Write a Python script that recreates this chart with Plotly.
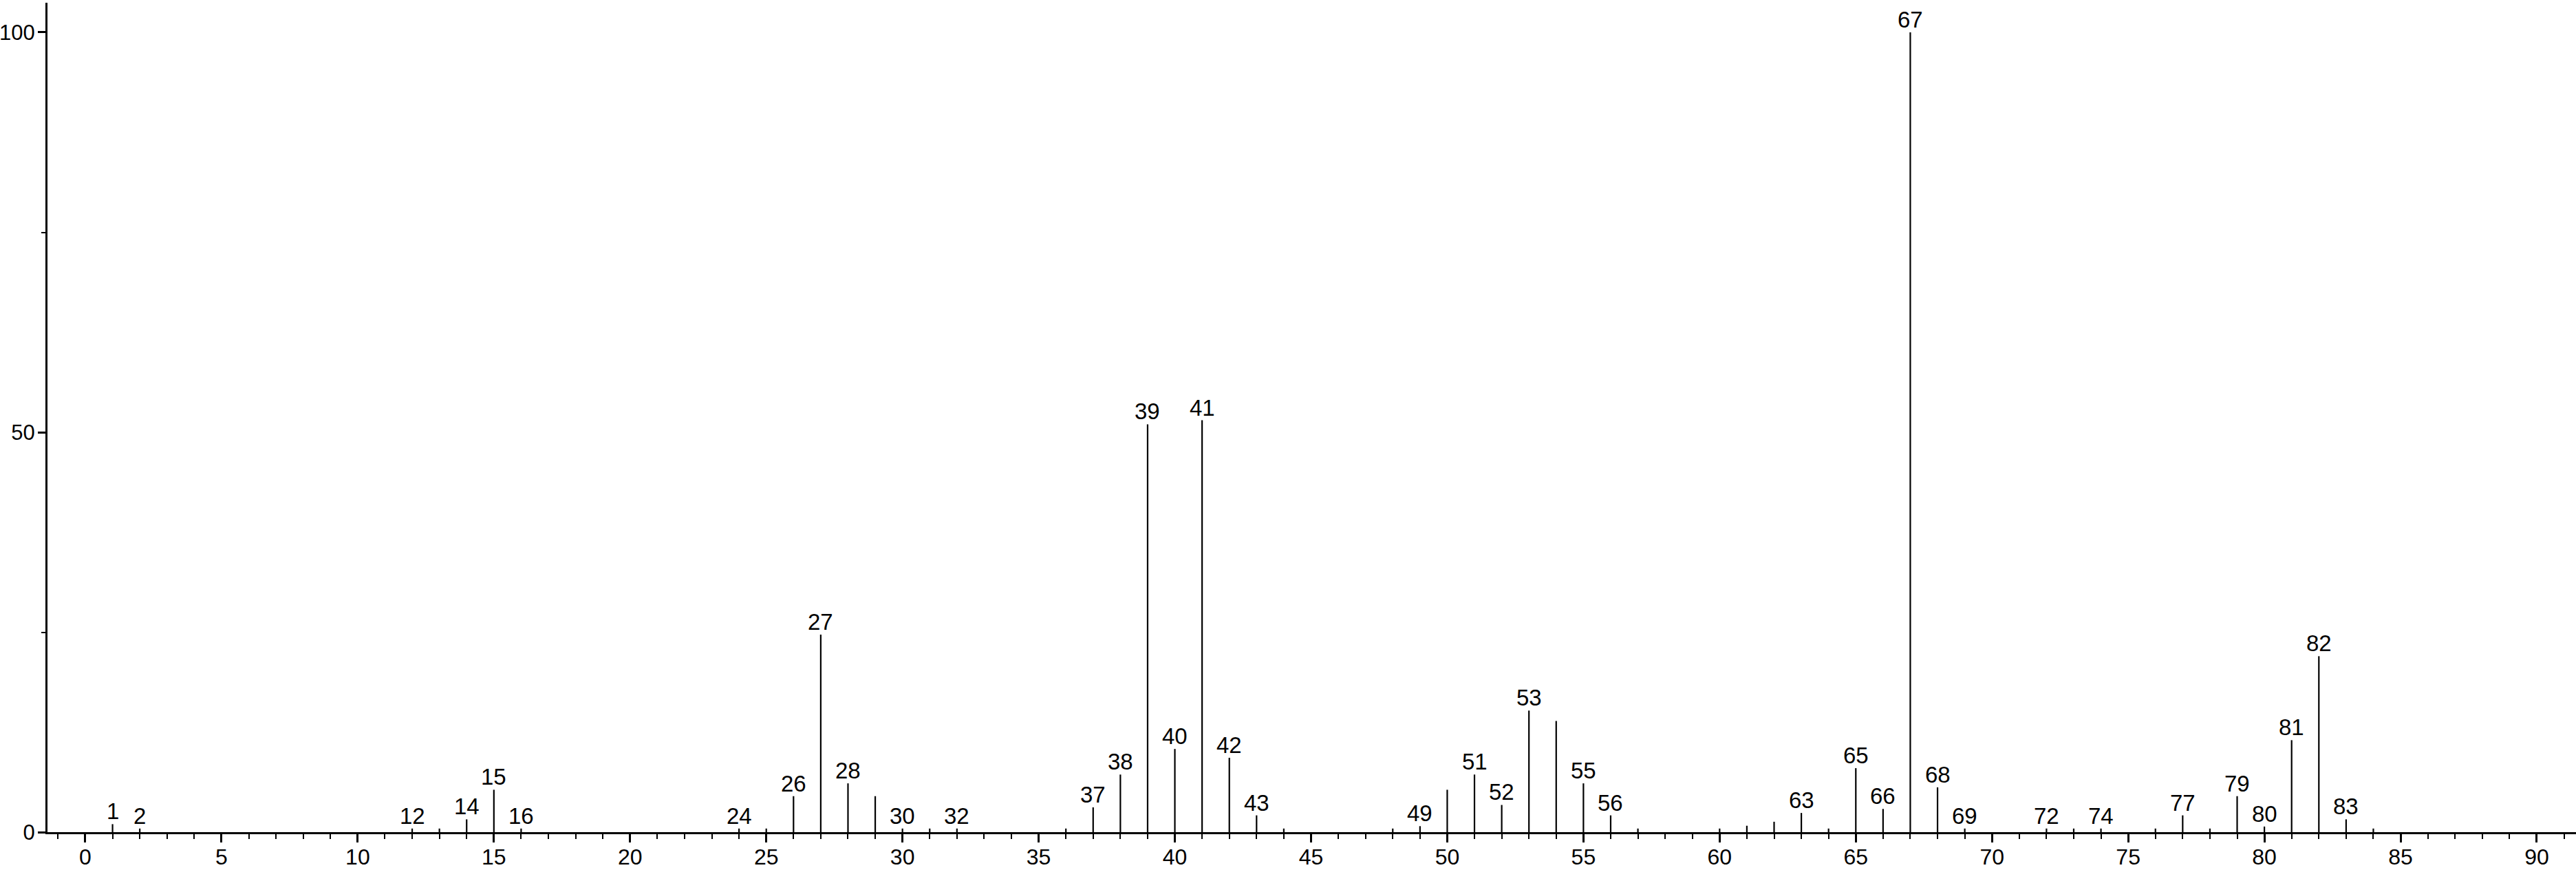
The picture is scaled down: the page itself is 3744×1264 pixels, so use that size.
import plotly.graph_objects as go

# m/z values and relative intensities (%)
mz = [1, 2, 12, 13, 14, 15, 16, 24, 25, 26, 27, 28, 29, 30, 31, 32, 36, 37, 38, 39,
      40, 41, 42, 43, 44, 48, 49, 50, 51, 52, 53, 54, 55, 56, 57, 60, 61, 62, 63, 64,
      65, 66, 67, 68, 69, 72, 73, 74, 76, 77, 78, 79, 80, 81, 82, 83, 84]
intensity = [1.0, 0.45, 0.45, 0.45, 1.6, 5.3, 0.45, 0.45, 0.45, 4.5, 24.7, 6.1, 4.5, 0.45, 0.45, 0.45, 0.45, 3.1, 7.2, 51.0,
             10.4, 51.5, 9.3, 2.1, 0.45, 0.45, 0.75, 5.3, 7.2, 3.4, 15.2, 13.9, 6.1, 2.1, 0.45, 0.45, 0.8, 1.3, 2.4, 0.45,
             8.0, 2.9, 100.0, 5.6, 0.45, 0.45, 0.45, 0.45, 0.45, 2.1, 0.45, 4.5, 0.7, 11.5, 22.0, 1.6, 0.45]
labeled_mz = [1, 2, 12, 14, 15, 16, 24, 26, 27, 28, 30, 32, 37, 38, 39, 40, 41, 42, 43, 49,
              51, 52, 53, 55, 56, 63, 65, 66, 67, 68, 69, 72, 74, 77, 79, 80, 81, 82, 83]
x_ticks = [0, 5, 10, 15, 20, 25, 30, 35, 40, 45, 50, 55, 60, 65, 70, 75, 80, 85, 90]
y_ticks = [0, 50, 100]

FONT = "Liberation Sans, Arial, sans-serif"

xs, ys = [], []
for m, v in zip(mz, intensity):
    xs += [m, m, None]
    ys += [0, v, None]

fig = go.Figure()
fig.add_trace(go.Scatter(x=xs, y=ys, mode="lines",
                         line=dict(color="black", width=2.2),
                         hoverinfo="skip", showlegend=False))

lookup = dict(zip(mz, intensity))
for m in labeled_mz:
    fig.add_annotation(x=m, y=lookup[m], text=str(m), showarrow=False,
                       yanchor="bottom", xanchor="center", yshift=-2,
                       font=dict(family=FONT, size=33, color="black"))

fig.update_layout(
    width=3744, height=1264,
    margin=dict(l=69, r=0, t=4, b=55),
    paper_bgcolor="white", plot_bgcolor="white",
    font=dict(family=FONT, size=32, color="black"),
    showlegend=False,
)
fig.update_xaxes(
    range=[-1.389, 91.44], showgrid=False, zeroline=False,
    showline=True, linecolor="black", linewidth=3,
    tickmode="array", tickvals=x_ticks, ticktext=[str(t) for t in x_ticks],
    ticks="outside", ticklen=12, tickwidth=2.5, tickcolor="black",
    minor=dict(dtick=1, tick0=0, ticks="outside", ticklen=7, tickwidth=2, tickcolor="black", showgrid=False),
    tickfont=dict(family=FONT, size=32, color="black"), automargin=False,
    ticklabelstandoff=-6,
)
fig.update_yaxes(
    range=[0, 103.7], showgrid=False, zeroline=False,
    showline=True, linecolor="black", linewidth=3,
    tickmode="array", tickvals=y_ticks, ticktext=[str(t) for t in y_ticks],
    ticks="outside", ticklen=11, tickwidth=2.5, tickcolor="black",
    minor=dict(dtick=25, tick0=0, ticks="outside", ticklen=6, tickwidth=2, tickcolor="black", showgrid=False),
    tickfont=dict(family=FONT, size=31, color="black"), automargin=False,
    ticklabelstandoff=-2,
)

fig.write_html("out.html", config={"displayModeBar": False},
               post_script="document.body.style.margin='0';document.body.style.padding='0';document.body.style.overflow='hidden';")
